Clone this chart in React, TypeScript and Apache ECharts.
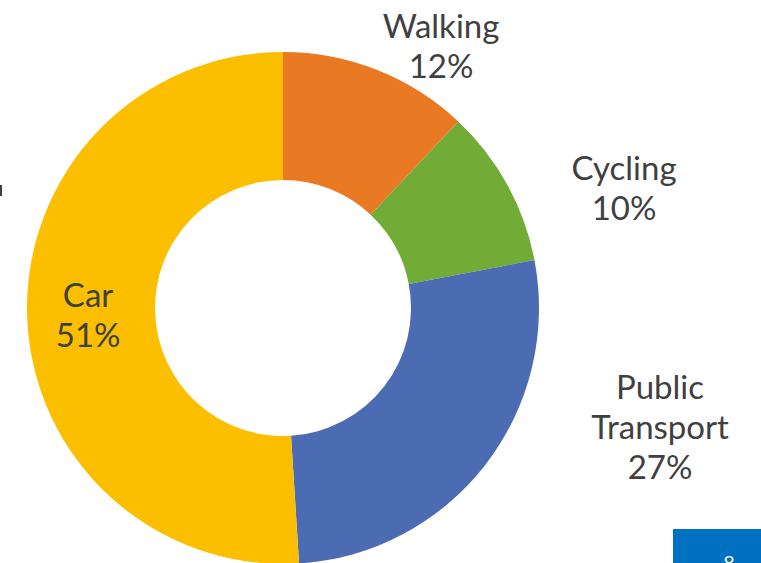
import React, { useEffect, useRef } from "react";
import * as echarts from "echarts";

const categories = ["Walking", "Cycling", "Public Transport", "Car"];
const values = [12, 10, 27, 51];
const colors = ["#E97A23", "#72AB35", "#4B6CB3", "#FBBF00"];
const labelNames = ["Walking", "Cycling", "Public\nTransport", "Car"];

export default function App() {
  const ref = useRef<HTMLDivElement>(null);
  useEffect(() => {
    if (!ref.current) return;
    const chart = echarts.init(ref.current, undefined, { renderer: "svg" });
    const labelPos: Record<number, [number, number]> = {
      0: [441, 45],
      1: [624, 187],
      2: [660, 426],
    };
    chart.setOption({
      animation: false,
      backgroundColor: "#ffffff",
      series: [
        {
          type: "pie",
          center: [283, 308],
          radius: [128, 256],
          startAngle: 90,
          clockwise: true,
          label: {
            show: true,
            position: "outside",
            formatter: (p: any) => labelNames[p.dataIndex] + "\n" + p.value + "%",
            fontFamily: "Lato",
            fontSize: 33,
            lineHeight: 40,
            color: "#404040",
            align: "center",
          },
          labelLine: { show: false },
          labelLayout: (params: any) => {
            const pos = labelPos[params.dataIndex];
            if (!pos) return {};
            return { x: pos[0], y: pos[1], align: "center", verticalAlign: "middle" };
          },
          data: categories.map((c, i) => ({
            name: c,
            value: values[i],
            itemStyle: { color: colors[i] },
            label: i === 3 ? { position: "inside" } : undefined,
          })),
        },
      ],
      graphic: [
        { type: "rect", shape: { x: 673, y: 529, width: 88, height: 34 }, style: { fill: "#0070C0" } },
        {
          type: "text",
          x: 729,
          y: 552,
          style: { text: "8", fill: "#ffffff", font: "20px Lato", align: "center", verticalAlign: "top" },
        },
        { type: "rect", shape: { x: 0, y: 185, width: 2, height: 11 }, style: { fill: "#404040" } },
      ],
    });
    return () => chart.dispose();
  }, []);
  return (
    <div
      ref={ref}
      style={{ position: "absolute", left: 0, top: 0, width: 761, height: 563 }}
    />
  );
}
